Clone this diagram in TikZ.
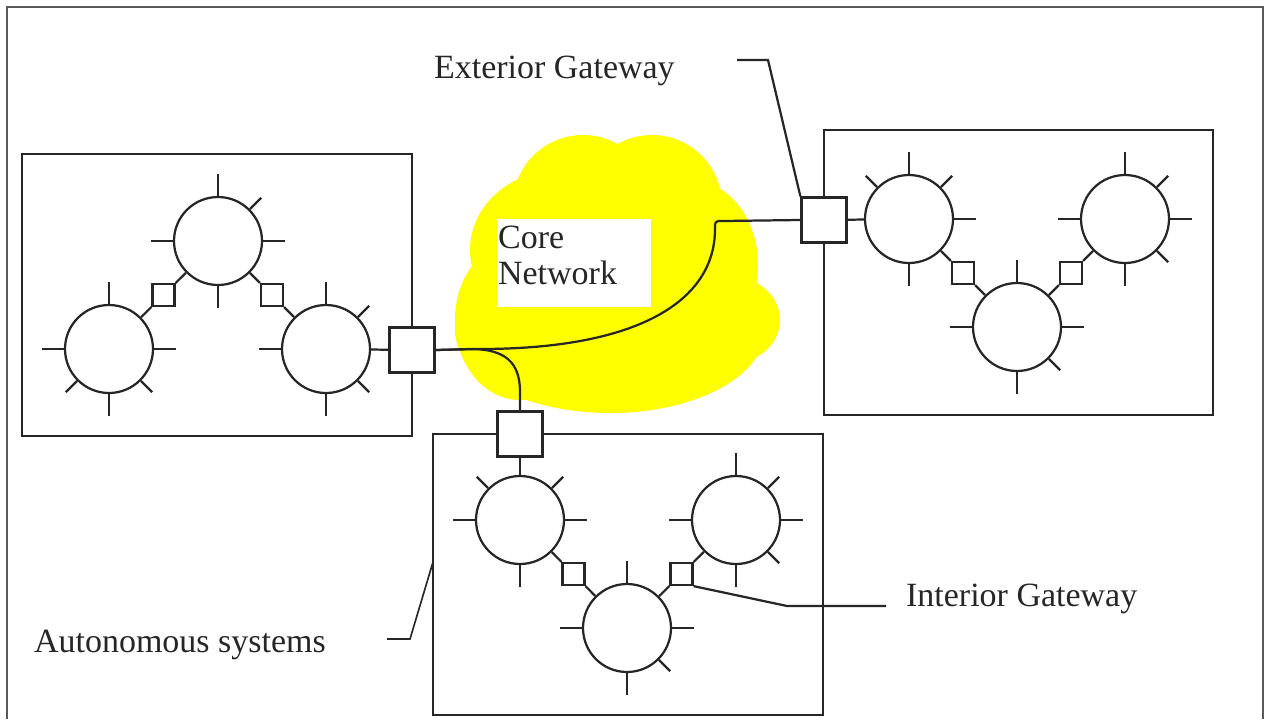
\documentclass[tikz,border=0pt]{standalone}
\usepackage{fontspec}
\setmainfont{Liberation Serif}
\definecolor{cloudyellow}{RGB}{255,255,0}
\newcommand\spokes[3]{%
  \foreach \a in {#2}{\draw (#1.\a) -- ++(\a:0.66cm);}%
  \foreach \a in {#3}{\draw (#1.\a) -- ++(\a:0.48cm);}}
\begin{document}
\begin{tikzpicture}[x=0.03cm,y=-0.03cm, line width=1.9pt, color=black!85,
  ws/.style={circle, draw, fill=white, minimum size=2.64cm, inner sep=0pt},
  sq/.style={rectangle, draw, fill=white, minimum size=0.66cm, inner sep=0pt},
  gw/.style={rectangle, draw, fill=white, minimum size=1.35cm, inner sep=0pt},
  lbl/.style={anchor=base west, inner sep=0pt, font=\fontsize{29}{34}\selectfont, text=black!85},
  asbox/.style={draw, line width=1.7pt},
  cloudpart/.style={fill=cloudyellow}]
\useasboundingbox (0,0) rectangle (1265,719);
% frame
\draw[line width=1.4pt, black!65] (7,719) -- (7,7) -- (1263,7) -- (1263,719);
% cloud
\fill[cloudpart] (610,330) ellipse [x radius=4.65cm, y radius=2.49cm];
\fill[cloudpart] (560,250) ellipse [x radius=2.7cm, y radius=2.4cm];
\fill[cloudpart] (583,205) circle [radius=2.1cm];
\fill[cloudpart] (652,205) circle [radius=2.1cm];
\fill[cloudpart] (690,265) ellipse [x radius=2.04cm, y radius=2.55cm];
\fill[cloudpart] (735,320) ellipse [x radius=1.35cm, y radius=1.26cm];
\fill[cloudpart] (520,320) ellipse [x radius=1.95cm, y radius=2.4cm];
% core network label
\fill[white] (497,219) rectangle (651,307);
\node[lbl] (core1) at (497,248) {Core};
\node[lbl] (core2) at (497,284) {Network};
% autonomous system boxes
\draw[asbox] (22,154) rectangle (412,436);
\draw[asbox] (824,130) rectangle (1213,415);
\draw[asbox] (433,434) rectangle (823,715);
% nodes
\node[ws] (TL) at (218,241) {};
\node[ws] (L)  at (109,349) {};
\node[ws] (R)  at (326,349) {};
\node[ws] (A)  at (909,219) {};
\node[ws] (B)  at (1125,219) {};
\node[ws] (C)  at (1017,327) {};
\node[ws] (D)  at (520,520) {};
\node[ws] (E)  at (736,520) {};
\node[ws] (F)  at (627,628) {};
\node[sq] (sTL) at (163.5,295) {};
\node[sq] (sTR) at (272,295) {};
\node[sq] (sAC) at (963,273) {};
\node[sq] (sCB) at (1071,273) {};
\node[sq] (sDF) at (573.5,574) {};
\node[sq] (sEF) at (681.5,574) {};
\node[gw] (gL) at (412,350) {};
\node[gw] (gE) at (824,220) {};
\node[gw] (gB) at (520,434) {};
% internal links
\draw (TL) -- (sTL) -- (L);
\draw (TL) -- (sTR) -- (R);
\draw (A) -- (sAC) -- (C);
\draw (C) -- (sCB) -- (B);
\draw (D) -- (sDF) -- (F);
\draw (F) -- (sEF) -- (E);
\draw (R) -- (gL);
\draw (gE) -- (A);
\draw (gB) -- (D);
% core network links
\draw (gL.east) -- (480,349) .. controls (640,349) and (715,300) .. (715,229)
      .. controls (715,221) .. (723,221) -- (gE.west);
\draw (gL.east) -- (470,349) .. controls (505,349) and (520,362) .. (520,392) -- (gB.north);
% spokes
\spokes{TL}{90,0,180,270}{45}
\spokes{L}{90,0,180,270}{225,315}
\spokes{R}{90,180,270}{45,315}
\spokes{A}{90,0,270}{135,45}
\spokes{B}{90,180,0,270}{45,315}
\spokes{C}{90,180,0,270}{315}
\spokes{D}{180,0,270}{135,45}
\spokes{E}{90,180,0,270}{45,315}
\spokes{F}{90,180,0,270}{315}
% labels and leaders
\node[lbl] (extl) at (433,78) {Exterior Gateway};
\coordinate (extend) at (737,60);
\draw (gE.north west) -- (768,60) -- (extend);
\node[lbl] (intl) at (905,606) {Interior Gateway};
\coordinate (intend) at (886,606);
\draw (sEF.south east) -- (787,606) -- (intend);
\node[lbl] (asl) at (33,652) {Autonomous systems};
\coordinate (asbot) at (433,562);
\coordinate (asend) at (387,639);
\draw[line width=1.4pt] (asbot) -- (410,639) -- (asend);
\end{tikzpicture}
\end{document}
